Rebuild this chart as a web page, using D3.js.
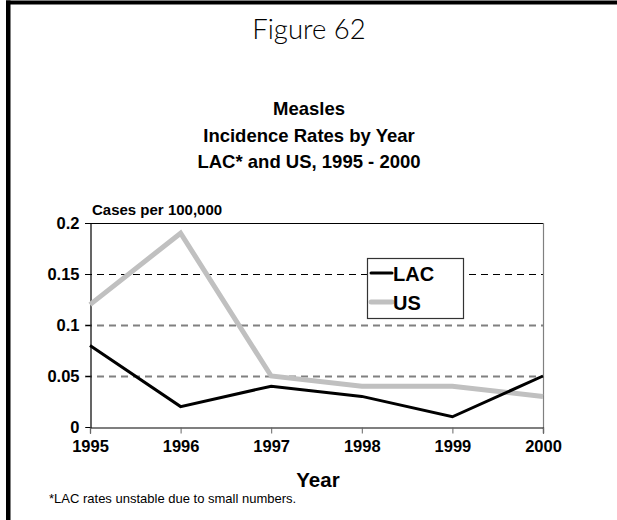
<!DOCTYPE html>
<html>
<head>
<meta charset="utf-8">
<script src="https://cdn.jsdelivr.net/npm/d3@7"></script>
<style>
  html, body { margin: 0; padding: 0; background: #fff; }
  svg { display: block; }
  text { font-family: "Liberation Sans", Arial, sans-serif; }
</style>
</head>
<body>
<svg id="chart" width="617" height="520"></svg>
<script>
const years = [1995, 1996, 1997, 1998, 1999, 2000];
const lacValues = [0.08, 0.02, 0.04, 0.03, 0.01, 0.05];
const usValues = [0.12, 0.19, 0.05, 0.04, 0.04, 0.03];
const yTicks = [0, 0.05, 0.1, 0.15, 0.2];
const yTickLabels = ["0", "0.05", "0.1", "0.15", "0.2"];
const seriesNames = ["LAC", "US"];
const titleLines = ["Measles", "Incidence Rates by Year", "LAC* and US, 1995 - 2000"];

const svg = d3.select("#chart");
svg.append("rect").attr("width", 617).attr("height", 520).attr("fill", "#fff");

// outer frame (top and left)
svg.append("rect").attr("x", 6).attr("y", 0.5).attr("width", 611).attr("height", 4).attr("fill", "#000");
svg.append("rect").attr("x", 6).attr("y", 0.5).attr("width", 4.5).attr("height", 519.5).attr("fill", "#000");

// headings
svg.append("text").attr("x", 309).attr("y", 39).attr("text-anchor", "middle")
  .style("font-family", "Lato, 'Open Sans', sans-serif").style("font-weight", 300)
  .style("font-size", "27.5px").attr("fill", "#000").text("Figure 62");

svg.selectAll("text.title").data(titleLines).enter().append("text")
  .attr("class", "title")
  .attr("x", 309).attr("y", (d, i) => 115 + i * 26.5)
  .attr("text-anchor", "middle")
  .style("font-weight", "bold").style("font-size", "18.5px").text(d => d);

const x0 = 90, x1 = 543, yTop = 223, yBot = 427;
const x = d3.scaleLinear().domain([years[0], years[years.length - 1]]).range([x0, x1]);
const y = d3.scaleLinear().domain([0, 0.2]).range([yBot, yTop]);

// gridlines
const gridTicks = yTicks.filter(t => t > 0 && t < 0.2);
svg.append("g").selectAll("line").data(gridTicks).enter().append("line")
  .attr("x1", x0 - 5).attr("x2", x1)
  .attr("y1", d => Math.round(y(d)) + 0.5).attr("y2", d => Math.round(y(d)) + 0.5)
  .attr("stroke", d => d === 0.15 ? "#000" : "#808080")
  .attr("stroke-width", d => d === 0.15 ? 1.2 : 1.8)
  .attr("stroke-dasharray", "7,5");

// frame top and right
svg.append("line").attr("x1", x0 - 5).attr("x2", x1).attr("y1", yTop + 0.5).attr("y2", yTop + 0.5)
  .attr("stroke", "#000").attr("stroke-width", 1.2);
svg.append("line").attr("x1", x1 + 0.5).attr("x2", x1 + 0.5).attr("y1", yTop).attr("y2", yBot + 6)
  .attr("stroke", "#808080").attr("stroke-width", 1.2);

// axes
const yAxis = d3.axisLeft(y).tickValues(yTicks).tickSize(5).tickFormat((d, i) => yTickLabels[i]);
const gy = svg.append("g").attr("transform", `translate(${x0 + 0.5},0)`).call(yAxis);
gy.select(".domain").attr("stroke", "#000").attr("stroke-width", 1.2);
gy.selectAll(".tick line").attr("stroke", "#000");
gy.selectAll(".tick text").attr("x", -11).attr("dy", "0.35em")
  .style("font-family", "'Liberation Sans', Arial, sans-serif")
  .style("font-weight", "bold").style("font-size", "16.5px").attr("fill", "#000");

const xAxis = d3.axisBottom(x).tickValues(years).tickSize(6).tickFormat(d3.format("d"));
const gx = svg.append("g").attr("transform", `translate(0,${yBot + 0.5})`).call(xAxis);
gx.select(".domain").attr("stroke", "#000").attr("stroke-width", 1.2);
gx.selectAll(".tick line").attr("stroke", "#666");
gx.selectAll(".tick text").attr("y", 13).attr("dy", "0.71em")
  .style("font-family", "'Liberation Sans', Arial, sans-serif")
  .style("font-weight", "bold").style("font-size", "16.5px").attr("fill", "#000");

// y-axis unit label
svg.append("text").attr("x", 92).attr("y", 215)
  .style("font-weight", "bold").style("font-size", "15px").text("Cases per 100,000");

// lines
const line = d3.line().x((d, i) => x(years[i])).y(d => y(d));
svg.append("path").datum(usValues).attr("d", line).attr("fill", "none")
  .attr("stroke", "#c0c0c0").attr("stroke-width", 5).attr("stroke-linejoin", "miter");
svg.append("path").datum(lacValues).attr("d", line).attr("fill", "none")
  .attr("stroke", "#000").attr("stroke-width", 3).attr("stroke-linejoin", "miter");

// legend
const lg = svg.append("g");
lg.append("rect").attr("x", 367.5).attr("y", 258.5).attr("width", 96).attr("height", 60)
  .attr("fill", "#fff").attr("stroke", "#333").attr("stroke-width", 1.2);
const legendColors = ["#000", "#c0c0c0"];
const legendWidths = [3, 5];
seriesNames.forEach((name, i) => {
  const ly = 273 + i * 29;
  lg.append("line").attr("x1", 371).attr("x2", 392).attr("y1", ly).attr("y2", ly)
    .attr("stroke", legendColors[i]).attr("stroke-width", legendWidths[i]).attr("stroke-linecap", "round");
  lg.append("text").attr("x", 393).attr("y", ly + 7.5)
    .style("font-weight", "bold").style("font-size", "20px").text(name);
});

// x-axis title & footnote
svg.append("text").attr("x", 318).attr("y", 487).attr("text-anchor", "middle")
  .style("font-weight", "bold").style("font-size", "20.5px").text("Year");
svg.append("text").attr("x", 49).attr("y", 503)
  .style("font-size", "13px").text("*LAC rates unstable due to small numbers.");
</script>
</body>
</html>
